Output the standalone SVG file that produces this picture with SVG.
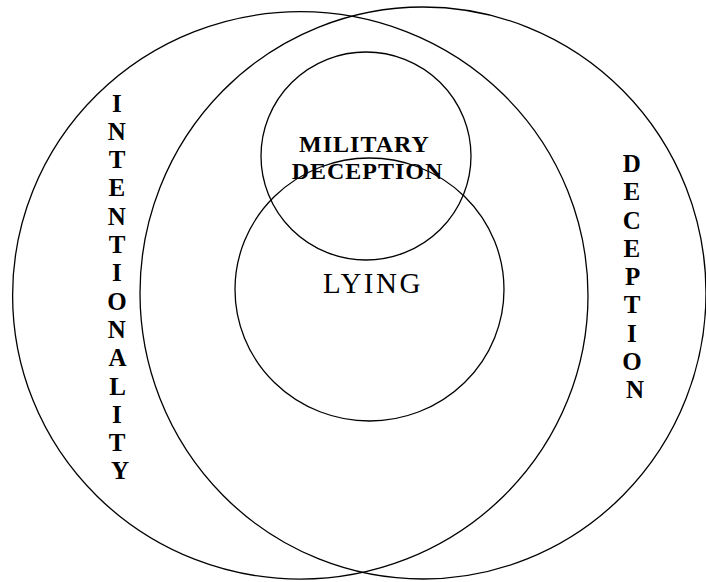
<svg xmlns="http://www.w3.org/2000/svg" width="706" height="582" viewBox="0 0 706 582">
<style>
.ring{fill:none;stroke:#000;stroke-width:1.3}
.lbl{font-family:"Liberation Serif","Times New Roman",serif;fill:#000;text-anchor:middle}
.b{font-weight:bold}
</style>
<rect width="706" height="582" fill="#fff"/>
<g id="intentionality">
<ellipse class="ring" cx="300.3" cy="295.4" rx="287.7" ry="283.7"/>
<text class="lbl b" font-size="25">
<tspan x="120" y="111.5">I</tspan>
<tspan x="120" y="139.8">N</tspan>
<tspan x="120" y="168.1">T</tspan>
<tspan x="120" y="196.4">E</tspan>
<tspan x="120" y="224.7">N</tspan>
<tspan x="120" y="253">T</tspan>
<tspan x="120" y="281.3">I</tspan>
<tspan x="120" y="309.6">O</tspan>
<tspan x="120" y="337.9">N</tspan>
<tspan x="120" y="366.2">A</tspan>
<tspan x="120" y="394.5">L</tspan>
<tspan x="120" y="422.8">I</tspan>
<tspan x="120" y="451.1">T</tspan>
<tspan x="120" y="479.4">Y</tspan>
</text>
</g>
<g id="deception">
<ellipse class="ring" cx="423" cy="293" rx="283" ry="286"/>
<text class="lbl b" font-size="25">
<tspan x="635" y="172">D</tspan>
<tspan x="635" y="200.25">E</tspan>
<tspan x="635" y="228.5">C</tspan>
<tspan x="635" y="256.75">E</tspan>
<tspan x="635" y="285">P</tspan>
<tspan x="635" y="313.25">T</tspan>
<tspan x="635" y="341.5">I</tspan>
<tspan x="635" y="369.75">O</tspan>
<tspan x="635" y="398">N</tspan>
</text>
</g>
<g id="lying">
<ellipse class="ring" cx="369.5" cy="289.5" rx="134.5" ry="131.5"/>
<text class="lbl" font-size="29" letter-spacing="2.5" x="373" y="293">LYING</text>
</g>
<g id="military-deception">
<ellipse class="ring" cx="366" cy="156" rx="105" ry="104"/>
<text class="lbl b" font-size="24" letter-spacing="1">
<tspan x="367.5" y="152">MILITARY</tspan>
<tspan x="367.5" y="179">DECEPTION</tspan>
</text>
</g>
<g id="connectors"/>
</svg>
